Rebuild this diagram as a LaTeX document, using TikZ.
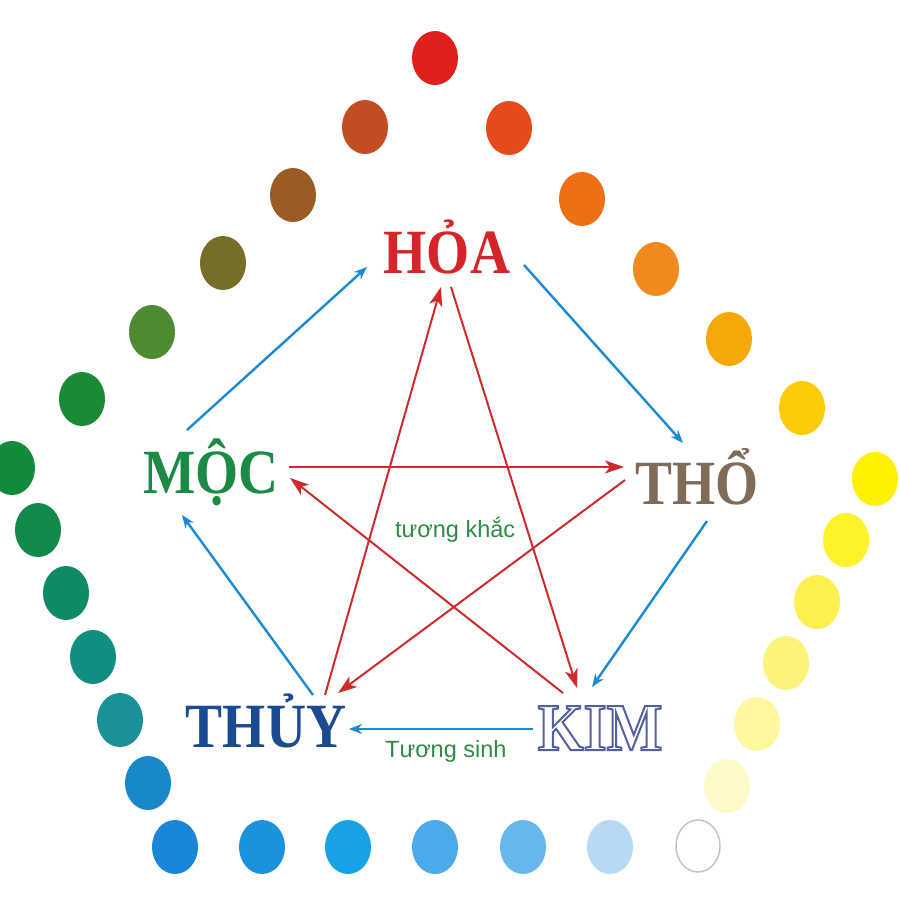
\documentclass[tikz,border=0pt]{standalone}
\usepackage{fontspec}
\setmainfont{Liberation Serif}
\newfontfamily\labfont[FakeStretch=0.88]{Liberation Serif Bold}
\newfontfamily\smallfont{Liberation Sans}
\usetikzlibrary{arrows.meta,calc,shapes.geometric}
\definecolor{cRed}{HTML}{D02A2C}
\definecolor{cBlue}{HTML}{1A8AD4}
\definecolor{cHoa}{HTML}{D4262A}
\definecolor{cMoc}{HTML}{1A8A44}
\definecolor{cTho}{HTML}{806A58}
\definecolor{cThuy}{HTML}{1A4A90}
\definecolor{cKimLine}{HTML}{5460A0}
\definecolor{cNote}{HTML}{2E8B46}
\newcommand\outlinetext[1]{\special{pdf:literal direct 1 Tr 2 w}#1\special{pdf:literal direct 0 Tr}}
\tikzset{
  dot/.style={ellipse, minimum width=46pt, minimum height=54pt, inner sep=0pt},
  elem/.style={anchor=base, inner sep=0pt, font=\labfont\fontsize{63}{63}\selectfont},
  note/.style={anchor=base west, inner sep=0pt, text=cNote, font=\smallfont\fontsize{23.5}{24}\selectfont},
  sinh/.style={draw=cBlue, line width=2.4pt, -{Stealth[length=13pt,width=10pt]}},
  khac/.style={draw=cRed, line width=2pt, -{Stealth[length=19pt,width=13pt,inset=5pt]}}
}
\begin{document}
\begin{tikzpicture}[x=1pt,y=-1pt]
\useasboundingbox (0,0) rectangle (900,900);
\fill[white] (0,0) rectangle (900,900);
\clip (0,0) rectangle (900,900);
% ring of dots
\foreach \x/\y/\c [count=\i] in {
 435/58/E0201E, 509/128/E44A1C, 582/199/EE6E14, 656/269/F08A1C, 729/339/F6A808,
 802/408/FCCC08, 875/479/FFF200, 846/540/FFF22A, 817/602/FCF050, 786/663/FCF47A,
 757/724/FDF8A0, 727/786/FEFAC8,
 610/847/B6DAF6, 523/847/68B6EE, 435/847/4AAAEA, 348/847/18A2E6, 262/847/1A92DE,
 175/847/1A86DA, 148/783/1888C8, 120/720/1A9098, 93/657/118E80, 66/593/0E8A66,
 38/530/108A4A, 12/468/128A3C, 82/399/1A8A34, 152/332/4E8A30, 223/263/746E28,
 293/195/9A5C22, 365/127/C04E22}{
  \definecolor{dc}{HTML}{\c}
  \node[dot, fill=dc] (d\i) at (\x,\y) {};
}
\node[dot, draw={rgb,255:red,196;green,196;blue,196}, line width=1.5pt, minimum width=44pt, minimum height=52pt] (dwhite) at (698,846) {};
% element labels
\node[elem, text=cHoa] (hoa) at (447,273) {HỎA};
\node[elem, text=cMoc] (moc) at (211,493) {MỘC};
\node[elem, text=cTho] (tho) at (697,504) {THỔ};
\node[elem, text=cThuy] (thuy) at (266,747) {THỦY};
\node[elem, text=cKimLine, font=\labfont\fontsize{67}{67}\selectfont] (kim) at (600,750) {\outlinetext{KIM}};
% notes
\node[note] (khacnote) at (395,537) {tương khắc};
\node[note] (sinhnote) at (385,757) {Tương sinh};
% khac (red) star
\draw[khac] ($(moc.base)+(78,-26)$) -- ($(tho.base)+(-73,-37)$);
\draw[khac] ($(tho.base)+(-72,-24)$) -- ($(thuy.base)+(72,-54)$);
\draw[khac] ($(thuy.base)+(59,-52)$) -- ($(hoa.base)+(-6,14)$);
\draw[khac] ($(hoa.base)+(4,14)$) -- ($(kim.base)+(-23,-62)$);
\draw[khac] ($(kim.base)+(-37,-57)$) -- ($(moc.base)+(79,-15)$);
% sinh (blue) cycle
\draw[sinh] ($(moc.base)+(-24,-63)$) -- ($(hoa.base)+(-80,-6)$);
\draw[sinh] ($(hoa.base)+(77,-8)$) -- ($(tho.base)+(-14,-61)$);
\draw[sinh] ($(tho.base)+(10,17)$) -- ($(kim.base)+(-8,-63)$);
\draw[sinh] ($(kim.base)+(-67,-21)$) -- ($(thuy.base)+(83,-18)$);
\draw[sinh] ($(thuy.base)+(47,-52)$) -- ($(moc.base)+(-29,22)$);
\end{tikzpicture}
\end{document}
